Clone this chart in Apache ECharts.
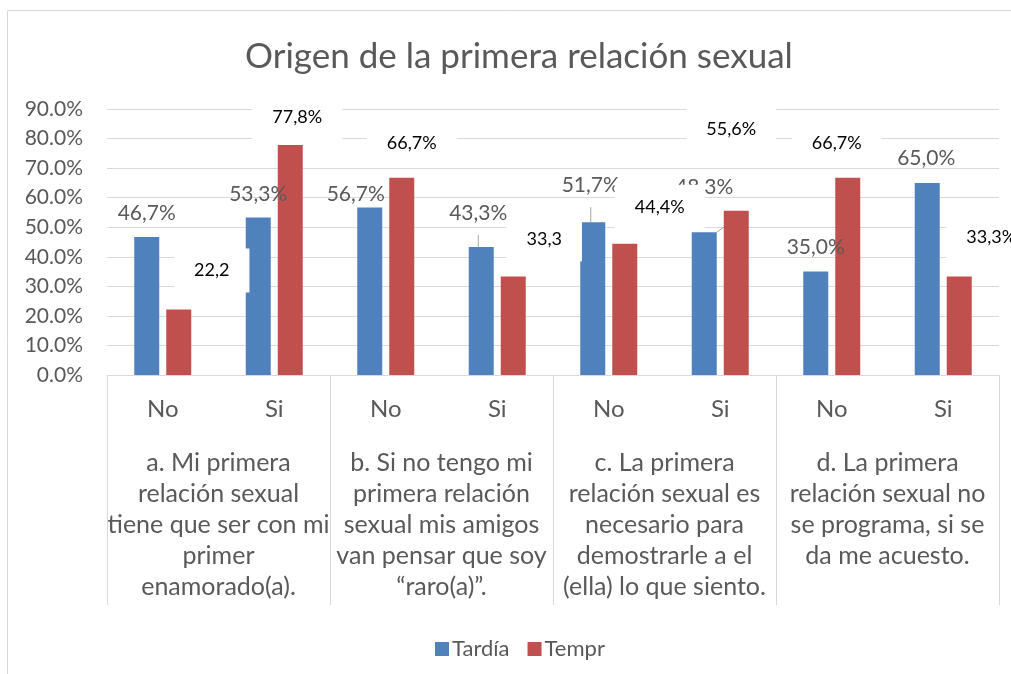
<!DOCTYPE html>
<html>
<head>
<meta charset="utf-8">
<script src="https://cdn.jsdelivr.net/npm/echarts@6/dist/echarts.min.js"></script>
<style>
  html, body { margin: 0; padding: 0; background: #fff; }
  #chart { width: 1011px; height: 674px; }
</style>
</head>
<body>
<div id="chart"></div>
<script>
const answers = ["No", "Si", "No", "Si", "No", "Si", "No", "Si"];
const statements = [
  "a. Mi primera\nrelación sexual\ntiene que ser con mi\nprimer\nenamorado(a).",
  "b. Si no tengo mi\nprimera relación\nsexual mis amigos\nvan pensar que soy\n“raro(a)”.",
  "c. La primera\nrelación sexual es\nnecesario para\ndemostrarle a el\n(ella) lo que siento.",
  "d. La primera\nrelación sexual no\nse programa, si se\nda me acuesto."
];
const tardia = [46.7, 53.3, 56.7, 43.3, 51.7, 48.3, 35.0, 65.0];
const tempr = [22.2, 77.8, 66.7, 33.3, 44.4, 55.6, 66.7, 33.3];
const yTicks = [0, 10, 20, 30, 40, 50, 60, 70, 80, 90];

// label nudges, like the hand-dragged labels in the original
const tardiaOffsets = [[0, -13], [0, -12], [-14, -2], [-3, -23], [-2, -26], [0, -34], [0, -13], [-1, -14]];
const temprOffsets = [[33, -17], [7, -6], [10, -13], [31, -15], [35, -15], [-5, -59], [-11, -13], [32, -17]];
const leaderIdx = [3, 4, 5];
const cutPct = [0, 3]; // these labels lost their "%" in the original

const FONT = "Lato";
const GRAY = "#595959";
const LINE = "#d9d9d9";

const fmt = (v) => v.toFixed(1).replace(".", ",") + "%";

const chart = echarts.init(document.getElementById("chart"));

chart.setOption({
  backgroundColor: "#fff",
  animation: false,
  textStyle: { fontFamily: FONT },
  title: {
    text: "Origen de la primera relación sexual",
    left: 240,
    top: 34,
    textStyle: { fontFamily: FONT, fontSize: 35, fontWeight: "normal", color: GRAY }
  },
  legend: {
    data: ["Tardía", "Tempr"],
    left: 430,
    top: 633,
    icon: "rect",
    itemWidth: 14,
    itemHeight: 14,
    itemGap: 18,
    textStyle: { fontFamily: FONT, fontSize: 22, color: GRAY, padding: [0, 0, 0, -2] }
  },
  graphic: [{
    type: "polyline",
    shape: { points: [[7.5, 674], [7.5, 10.5], [1011, 10.5]] },
    style: { stroke: LINE, lineWidth: 1, fill: null }
  }],
  grid: { left: 107, right: 12, top: 109, bottom: 299 },
  xAxis: [
    {
      type: "category",
      data: answers,
      axisLine: { lineStyle: { color: LINE } },
      axisTick: { show: false },
      axisLabel: { fontFamily: FONT, fontSize: 24, color: GRAY, margin: 22, interval: 0 }
    },
    {
      type: "category",
      data: statements,
      position: "bottom",
      axisLine: { show: false },
      axisTick: { show: true, length: 230, interval: 0, lineStyle: { color: LINE } },
      axisLabel: { fontFamily: FONT, fontSize: 25, lineHeight: 31, color: GRAY, margin: 72, interval: 0 }
    }
  ],
  yAxis: {
    type: "value",
    min: yTicks[0],
    max: yTicks[yTicks.length - 1],
    interval: 10,
    axisLine: { show: false },
    axisTick: { show: false },
    splitLine: { lineStyle: { color: LINE } },
    axisLabel: {
      fontFamily: FONT, fontSize: 21, color: GRAY, margin: 24,
      formatter: (v) => v.toFixed(1) + "%"
    }
  },
  series: [
    {
      name: "Tardía",
      type: "bar",
      barWidth: 25,
      barGap: "28%",
      itemStyle: { color: "#4f81bd" },
      labelLine: { show: false, lineStyle: { color: "#a6a6a6", width: 1 } },
      data: tardia.map((v, i) => ({
        value: v,
        label: { offset: tardiaOffsets[i] },
        labelLine: { show: leaderIdx.includes(i) }
      })),
      label: {
        show: true,
        position: "top",
        distance: 0,
        fontFamily: FONT,
        fontSize: 21,
        lineHeight: 22,
        color: GRAY,
        formatter: (p) => fmt(p.value)
      }
    },
    {
      name: "Tempr",
      type: "bar",
      barWidth: 25,
      itemStyle: { color: "#c0504d" },
      data: tempr.map((v, i) => ({ value: v, label: { offset: temprOffsets[i] } })),
      label: {
        show: true,
        position: "top",
        distance: 0,
        fontFamily: FONT,
        fontSize: 18,
        lineHeight: 18,
        color: "#000",
        backgroundColor: "#fff",
        padding: [13, 20],
        formatter: (p) => {
          const s = fmt(p.value);
          return cutPct.includes(p.dataIndex) ? s.slice(0, -1) : s;
        }
      }
    }
  ]
});
</script>
</body>
</html>
